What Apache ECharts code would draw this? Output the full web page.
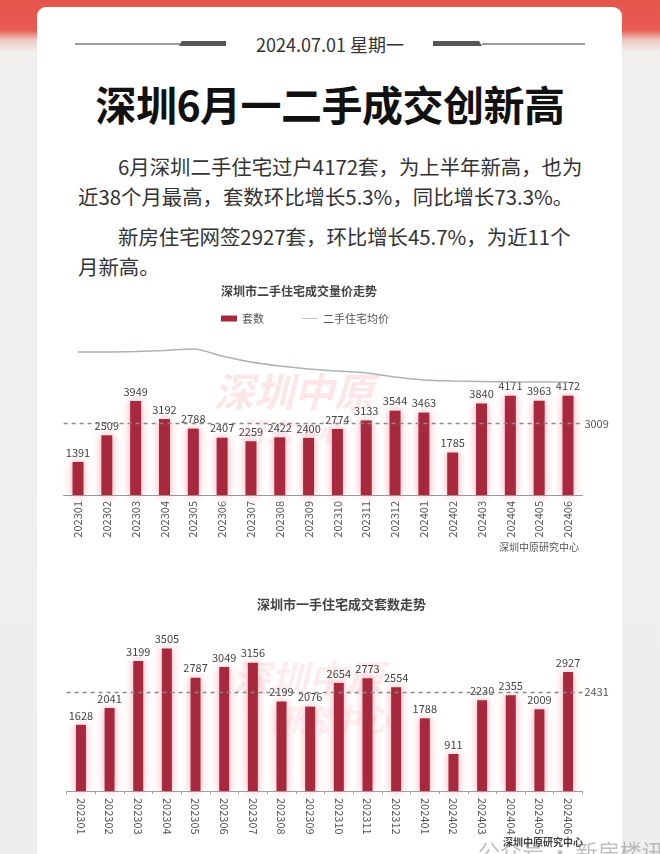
<!DOCTYPE html>
<html>
<head>
<meta charset="utf-8">
<script src="https://cdn.jsdelivr.net/npm/echarts@6/dist/echarts.min.js"></script>
<style>
html,body{margin:0;padding:0;}
body{width:660px;height:854px;overflow:hidden;position:relative;
 background:linear-gradient(#e4544b 0px,#e95d54 30px,#f0c9c3 40px,#f1efee 52px,#efeeee 100%);
 font-family:"Noto Sans CJK SC","Noto Sans",sans-serif;}
#card{position:absolute;left:37px;top:7px;width:585px;height:860px;background:#fff;border-radius:9px 9px 0 0;}
#date{position:absolute;left:0;top:31px;width:660px;text-align:center;font-size:18px;color:#333;line-height:26px;}
.ln{position:absolute;height:2px;background:#9a9a9a;top:43px;}
.th{position:absolute;height:5px;background:#555;top:41px;}
#title{position:absolute;left:0;top:76px;width:660px;text-align:center;font-size:41px;font-weight:bold;color:#111;line-height:54px;letter-spacing:-0.5px;}
#para{position:absolute;left:78px;top:151px;width:560px;font-size:20.4px;color:#333;line-height:30px;white-space:nowrap;}
#para p{margin:0 0 10px 0;}
#chart{position:absolute;left:0;top:0;width:660px;height:854px;}
</style>
</head>
<body>
<div id="card"></div>
<div class="ln" style="left:75px;width:105px;"></div>
<div class="th" style="left:179px;width:47px;clip-path:polygon(6% 0,100% 0,100% 100%,0 100%);"></div>
<div class="th" style="left:433px;width:49px;clip-path:polygon(0 0,94% 0,100% 100%,0 100%);"></div>
<div class="ln" style="left:482px;width:103px;"></div>
<div id="date">2024.07.01 星期一</div>
<div id="title">深圳6月一二手成交创新高</div>
<div id="para">
<p><span style="padding-left:40px"></span>6月深圳二手住宅过户4172套，为上半年新高，也为<br>近38个月最高，套数环比增长5.3%，同比增长73.3%。</p>
<p><span style="padding-left:40px"></span>新房住宅网签2927套，环比增长45.7%，为近11个<br>月新高。</p>
</div>
<div id="chart"></div>
<script>
const months = ['202301','202302','202303','202304','202305','202306','202307','202308','202309','202310','202311','202312','202401','202402','202403','202404','202405','202406'];
const resaleUnits = [1391,2509,3949,3192,2788,2407,2259,2422,2400,2774,3133,3544,3463,1785,3840,4171,3963,4172];
const resalePrice = [60888,60890,61050,61390,61900,59540,57510,56160,55150,54470,53800,52450,51430,51100,50930,50800,50780,50757];
const newUnits = [1628,2041,3199,3505,2787,3049,3156,2199,2076,2654,2773,2554,1788,911,2230,2355,2009,2927];
const newAvgLine = 2431;
const chart1Title = '深圳市二手住宅成交量价走势';
const chart2Title = '深圳市一手住宅成交套数走势';
const sourceText = '深圳中原研究中心';

const barColor = '#a8293d';
const glow = 'rgba(238,80,100,0.5)';
const font = '"Noto Sans CJK SC","Noto Sans",sans-serif';

const chart = echarts.init(document.getElementById('chart'), null, {renderer:'canvas'});
const lastIdx = resalePrice.length - 1;

const option = {
  animation:false,
  backgroundColor:'transparent',
  textStyle:{fontFamily:font},
  legend:{
    left:221, top:313, padding:0, itemWidth:16, itemHeight:6, itemGap:38,
    textStyle:{fontSize:11, color:'#555', fontFamily:font},
    data:[{name:'套数', icon:'rect'},{name:'二手住宅均价', icon:'path://M0,0 L20,0 L20,1 L0,1 Z', itemStyle:{color:'#aab3ba'}}]
  },
  grid:[
    {left:63.6, right:77.6, top:376, height:119},
    {left:63.6, right:77.6, top:340, height:45},
    {left:66.6, right:77.6, top:628.4, height:162.6}
  ],
  xAxis:[
    {gridIndex:0, type:'category', data:months,
     axisLine:{lineStyle:{color:'#9a9a9a'}}, axisTick:{show:false},
     axisLabel:{rotate:90, fontSize:11, color:'#555', margin:6, fontFamily:font}},
    {gridIndex:1, type:'category', data:months, show:false},
    {gridIndex:2, type:'category', data:months,
     axisLine:{lineStyle:{color:'#a0a0a0'}}, axisTick:{show:true, length:3, lineStyle:{color:'#a0a0a0'}},
     axisLabel:{rotate:-90, fontSize:11, color:'#555', margin:7, fontFamily:font}}
  ],
  yAxis:[
    {gridIndex:0, type:'value', min:0, max:5000, show:false},
    {gridIndex:1, type:'value', min:49744, max:64940, show:false},
    {gridIndex:2, type:'value', min:0, max:4000, show:false}
  ],
  series:[
    {name:'套数', type:'bar', xAxisIndex:0, yAxisIndex:0, data:resaleUnits, barWidth:11,
     itemStyle:{color:barColor, shadowBlur:8, shadowColor:glow},
     label:{show:true, position:'top', fontSize:11, color:'#444', distance:4, fontFamily:font},
     markLine:{symbol:'none', silent:true,
       lineStyle:{type:[4,4], color:'#8a8a8a', width:1.3},
       label:{position:'end', fontSize:11, color:'#555', distance:2, formatter:p=>Math.round(p.value)},
       data:[{type:'average'}]}},
    {name:'二手住宅均价', type:'line', xAxisIndex:1, yAxisIndex:1, data:resalePrice,
     symbol:'none', smooth:0.3, clip:false,
     lineStyle:{color:'#aab3ba', width:1.5}, itemStyle:{color:'#aab3ba'},
     label:{show:true, position:'top', fontSize:11, color:'#555', offset:[6,0], fontFamily:font,
       formatter:p=>p.dataIndex===lastIdx?String(p.value):''}},
    {name:'新房', type:'bar', xAxisIndex:2, yAxisIndex:2, data:newUnits, barWidth:10,
     itemStyle:{color:barColor, shadowBlur:8, shadowColor:glow},
     label:{show:true, position:'top', fontSize:11, color:'#444', distance:4, fontFamily:font},
     markLine:{symbol:'none', silent:true,
       lineStyle:{type:[4,4], color:'#8a8a8a', width:1.3},
       label:{position:'end', fontSize:11, color:'#555', distance:2},
       data:[{yAxis:newAvgLine}]}}
  ],
  graphic:[
    {type:'text', left:221, top:285, z:10, style:{text:chart1Title, font:'bold 12px '+font, fill:'#444'}},
    {type:'text', left:257, top:598, z:10, style:{text:chart2Title, font:'bold 13px '+font, fill:'#444'}},
    {type:'text', left:499, top:542, z:10, style:{text:sourceText, font:'10px '+font, fill:'#555'}},
    {type:'text', left:503, top:837, z:10, style:{text:sourceText, font:'bold 10px '+font, fill:'#444'}},
    {type:'text', left:214, top:372, z:0, style:{text:'深圳中原', font:'italic bold 40px '+font, fill:'rgba(235,80,95,0.14)'}},
    {type:'text', left:240, top:418, z:0, style:{text:'研究中心', font:'italic bold 26px '+font, fill:'rgba(235,80,95,0.10)'}},
    {type:'text', left:232, top:660, z:0, style:{text:'深圳中原', font:'italic bold 38px '+font, fill:'rgba(235,80,95,0.11)'}},
    {type:'text', left:270, top:705, z:0, style:{text:'研究中心', font:'italic bold 30px '+font, fill:'rgba(235,80,95,0.08)'}},
    {type:'text', left:478, top:841, z:0, style:{text:'公众号 · 新房楼讯', font:'22px '+font, fill:'rgba(140,140,140,0.55)'}}
  ]
};
chart.setOption(option);
</script>
</body>
</html>
